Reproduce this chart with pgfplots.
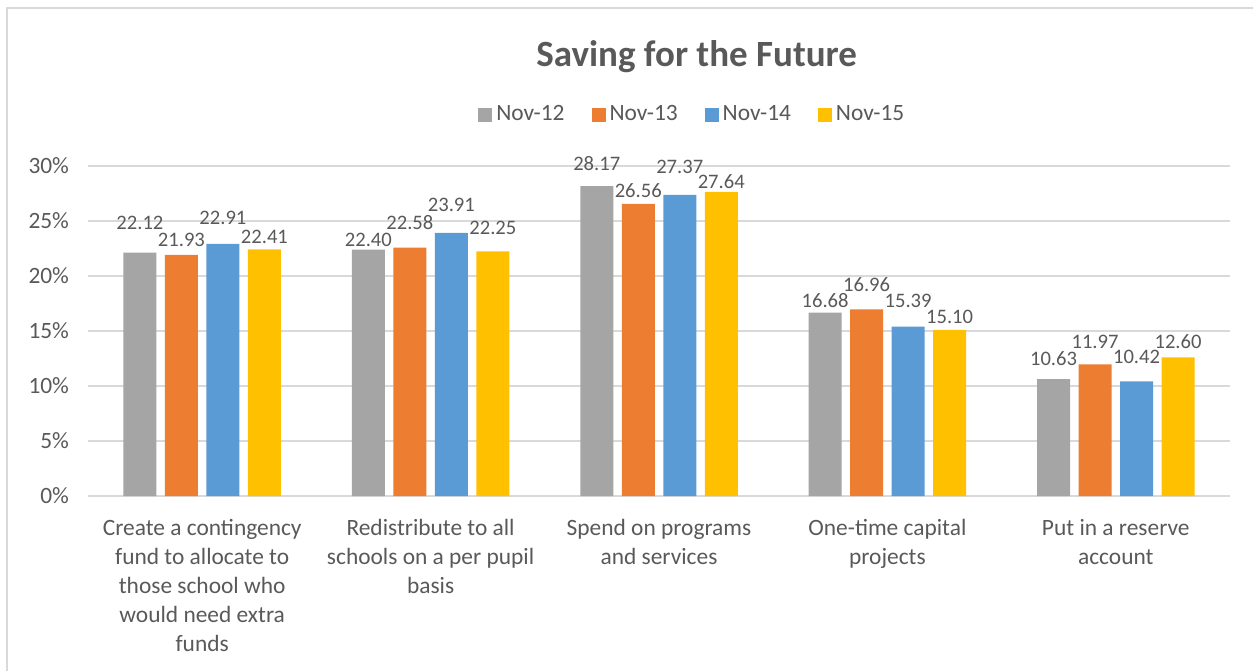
\documentclass[border=0pt]{standalone}
\usepackage{pgfplots}
\pgfplotsset{compat=1.18}
\usepackage{fontspec}
\setmainfont{Carlito}

\definecolor{cgray}{HTML}{A5A5A5}
\definecolor{corange}{HTML}{ED7D31}
\definecolor{cblue}{HTML}{5B9BD5}
\definecolor{cyellow}{HTML}{FFC000}
\definecolor{txt}{HTML}{595959}
\definecolor{gridc}{HTML}{D9D9D9}

% x = category, y = value, dy = label lift above bar top (bp)
\pgfplotstableread{
x y dy
0 22.12 15.1
1 22.40 4.8
2 28.17 11.2
3 16.68 5.8
4 10.63 10.2
}\novtwelve
\pgfplotstableread{
x y dy
0 21.93 7.2
1 22.58 12.5
2 26.56 6.4
3 16.96 12.2
4 11.97 11.0
}\novthirteen
\pgfplotstableread{
x y dy
0 22.91 12.8
1 23.91 14.0
2 27.37 14.0
3 15.39 12.8
4 10.42 12.3
}\novfourteen
\pgfplotstableread{
x y dy
0 22.41 6.5
1 22.25 11.7
2 27.64 5.0
3 15.10 6.7
4 12.60 8.0
}\novfifteen

\begin{document}
\begin{tikzpicture}
\useasboundingbox (-44bp,-87.5bp) rectangle (582.5bp,248bp);
\draw[gridc, line width=1bp] (-40.5bp,-90bp) -- (-40.5bp,244bp) -- (585bp,244bp);
\begin{axis}[
    at={(0,0)}, anchor=south west,
    scale only axis,
    width=571bp, height=165bp,
    ybar=4.25bp,
    bar width=16.5bp,
    xmin=-0.5, xmax=4.5,
    ymin=0, ymax=30,
    ytick={0,5,...,30},
    yticklabel={\pgfmathprintnumber{\tick}\%},
    xtick={0,1,2,3,4},
    xticklabels={
        {Create a contingency\\fund to allocate to\\those school who\\would need extra\\funds},
        {Redistribute to all\\schools on a per pupil\\basis},
        {Spend on programs\\and services},
        {One-time capital\\projects},
        {Put in a reserve\\account}},
    x tick label style={align=center, font=\fontsize{11.7bp}{14.5bp}\selectfont, text=txt, yshift=-8bp},
    y tick label style={font=\fontsize{11.7bp}{14bp}\selectfont, text=txt, xshift=-6bp},
    /pgf/number format/assume math mode=true,
    major tick length=0pt,
    axis line style={draw=none},
    xmajorgrids=false,
    ymajorgrids=true,
    grid style={draw=gridc, line width=1bp},
    visualization depends on={\thisrow{dy} \as \dy},
    nodes near coords,
    nodes near coords style={font=\fontsize{10.3bp}{12bp}\selectfont, text=txt,
        anchor=center, yshift=\dy bp,
        /pgf/number format/fixed, /pgf/number format/fixed zerofill, /pgf/number format/precision=2},
    legend style={at={(0.53,1.155)}, anchor=center, draw=none, legend columns=-1,
        font=\fontsize{11.7bp}{14bp}\selectfont, text=txt,
        /tikz/every even column/.append style={column sep=11.5bp}},
    legend image code/.code={\fill[#1] (0bp,-3.5bp) rectangle (7bp,3.5bp);},
    title={\textbf{Saving for the Future}},
    title style={at={(0.533,1.294)}, anchor=center, font=\fontsize{18.5bp}{22bp}\selectfont, text=txt},
    clip=false,
]
\addplot[fill=cgray, draw=none] table[x=x, y=y] {\novtwelve};
\addplot[fill=corange, draw=none] table[x=x, y=y] {\novthirteen};
\addplot[fill=cblue, draw=none] table[x=x, y=y] {\novfourteen};
\addplot[fill=cyellow, draw=none] table[x=x, y=y] {\novfifteen};
\legend{Nov-12,Nov-13,Nov-14,Nov-15}
\end{axis}
\end{tikzpicture}
\end{document}
